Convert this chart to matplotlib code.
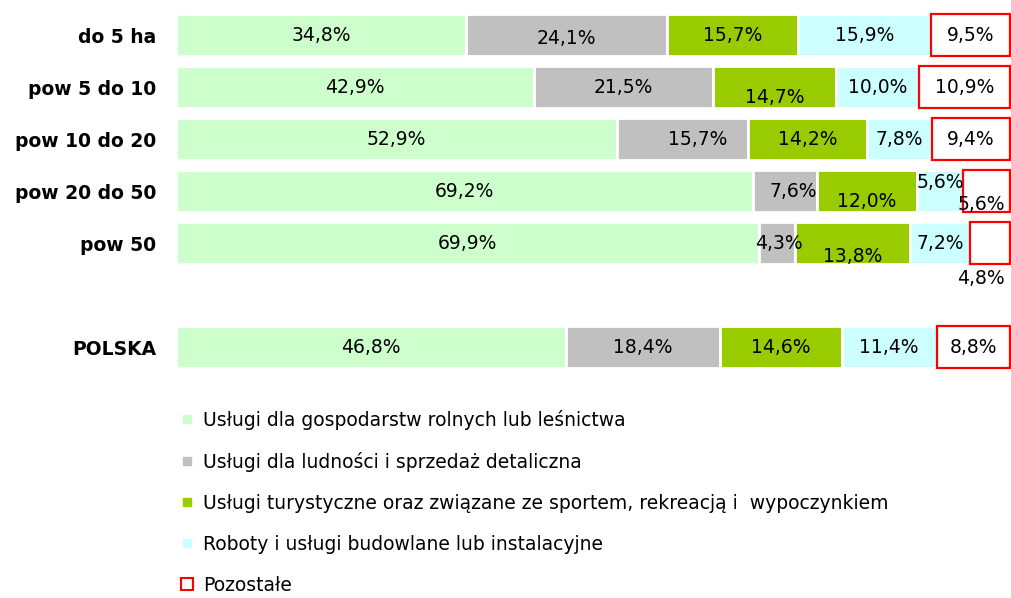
import matplotlib
matplotlib.use("Agg")
import matplotlib.pyplot as plt
from matplotlib.lines import Line2D

# data
groups = ["do 5 ha", "pow 5 do 10", "pow 10 do 20", "pow 20 do 50", "pow 50", "POLSKA"]
rolne = [34.8, 42.9, 52.9, 69.2, 69.9, 46.8]
ludnosc = [24.1, 21.5, 15.7, 7.6, 4.3, 18.4]
turystyka = [15.7, 14.7, 14.2, 12.0, 13.8, 14.6]
budowlane = [15.9, 10.0, 7.8, 5.6, 7.2, 11.4]
pozostale = [9.5, 10.9, 9.4, 5.6, 4.8, 8.8]
series_names = [
    "Usługi dla gospodarstw rolnych lub leśnictwa",
    "Usługi dla ludności i sprzedaż detaliczna",
    "Usługi turystyczne oraz związane ze sportem, rekreacją i  wypoczynkiem",
    "Roboty i usługi budowlane lub instalacyjne",
    "Pozostałe",
]

colors = ["#CCFFCC", "#C0C0C0", "#99CC00", "#CCFFFF", "white"]
ypos = [0, 1, 2, 3, 4, 6]  # gap before POLSKA

# label nudges in pixels (dx, dy downward), as the original chart places some labels off-centre
nudge = {
    (0, 1): (0, 3), (1, 2): (0, 10), (2, 1): (15, 0),
    (3, 1): (8, 0), (3, 2): (0, 10), (3, 3): (0, -9), (3, 4): (-5, 13),
    (4, 1): (2, 0), (4, 2): (0, 13), (4, 4): (-9, 35),
}

fig = plt.figure(figsize=(10.11, 5.98), dpi=100)
ax = fig.add_axes([176 / 1011, 1 - 373 / 598, 834 / 1011, 364 / 598])

series = [rolne, ludnosc, turystyka, budowlane, pozostale]
left = [0.0] * len(groups)
for s, vals in enumerate(series):
    if s == 4:
        bars = ax.barh(ypos, vals, left=left, height=0.82, color="white",
                       edgecolor="#FF0000", linewidth=1.6, clip_on=False)
    else:
        bars = ax.barh(ypos, vals, left=left, height=0.82, color=colors[s],
                       edgecolor="white", linewidth=2)
    for r, (v, l) in enumerate(zip(vals, left)):
        dx, dy = nudge.get((r, s), (0, 0))
        ax.annotate(f"{v:.1f}%".replace(".", ","), (l + v / 2, ypos[r]),
                    xytext=(dx, -dy), textcoords="offset pixels",
                    ha="center", va="center", fontsize=13.5, color="black")
    left = [a + b for a, b in zip(left, vals)]

ax.set_xlim(0, 100)
ax.set_ylim(6.5, -0.5)
ax.set_yticks(ypos)
ax.set_yticklabels(groups, fontsize=13.5, fontweight="bold")
ax.tick_params(axis="y", length=0, pad=14)
ax.set_xticks([])
for sp in ax.spines.values():
    sp.set_visible(False)

handles = []
for s in range(4):
    handles.append(Line2D([], [], ls="none", marker="s", markersize=6,
                          markerfacecolor=colors[s], markeredgecolor=colors[s]))
handles.append(Line2D([], [], ls="none", marker="s", markersize=8.5,
                      markerfacecolor="white", markeredgecolor="#FF0000",
                      markeredgewidth=1.5))
fig.legend(handles, series_names, loc="upper left",
           bbox_to_anchor=(178 / 1011, 1 - 410 / 598), frameon=False,
           fontsize=13.5, handlelength=1.0, handletextpad=0.35,
           labelspacing=1.17, borderaxespad=0, borderpad=0)

fig.savefig("out.png", dpi=100)
